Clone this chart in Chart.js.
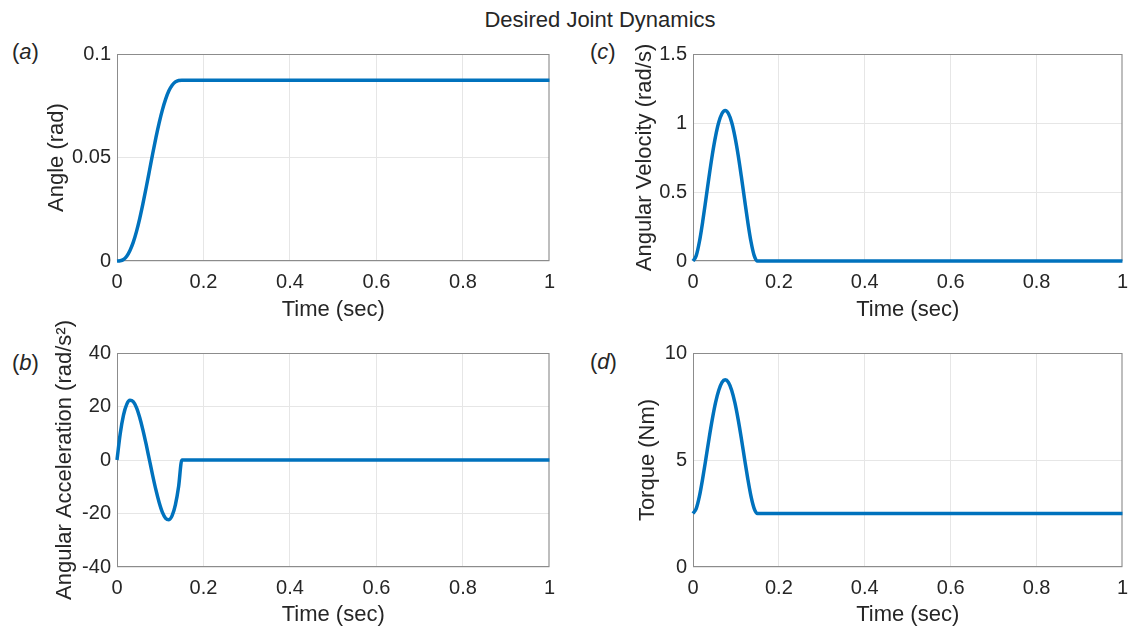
<!DOCTYPE html>
<html>
<head>
<meta charset="utf-8">
<script src="https://cdn.jsdelivr.net/npm/chart.js@4/dist/chart.umd.min.js"></script>
<style>
  body { margin: 0; background: #fff; }
  #wrap { position: relative; width: 1137px; height: 629px; font-family: "Liberation Sans", Arial, sans-serif; color: #262626; }
  #wrap canvas { position: absolute; }
  .txt { position: absolute; font-size: 22px; line-height: 1; white-space: nowrap; }
  .tag { transform: translateY(-50%); }
</style>
</head>
<body>
<div id="wrap">
  <div class="txt" id="mainTitle" style="left:600px; top:20px; transform:translate(-50%,-50%);">Desired Joint Dynamics</div>
  <div class="txt tag" style="left:12px; top:52px;">(<i>a</i>)</div>
  <div class="txt tag" style="left:590px; top:52px;">(<i>c</i>)</div>
  <div class="txt tag" style="left:12px; top:363px;">(<i>b</i>)</div>
  <div class="txt tag" style="left:590px; top:362px;">(<i>d</i>)</div>
  <canvas id="chartA" width="564" height="290" style="left:0px; top:36px;"></canvas>
  <canvas id="chartC" width="561" height="290" style="left:576px; top:36px;"></canvas>
  <canvas id="chartB" width="564" height="329" style="left:0px; top:300px;"></canvas>
  <canvas id="chartD" width="561" height="329" style="left:576px; top:300px;"></canvas>
</div>
<script>
// Data (time in sec)
const time = [0, 0.0075, 0.015, 0.0225, 0.03, 0.0375, 0.045, 0.0525, 0.06, 0.0675, 0.075,
              0.0825, 0.09, 0.0975, 0.105, 0.1125, 0.12, 0.1275, 0.135, 0.1425, 0.15, 1];
const angle = [0, 0.0001, 0.0007, 0.0023, 0.0051, 0.0090, 0.0142, 0.0205, 0.0277, 0.0355, 0.0436,
               0.0518, 0.0596, 0.0667, 0.0730, 0.0782, 0.0822, 0.0849, 0.0865, 0.0872, 0.0873, 0.0873];
const velocity = [0, 0.039, 0.141, 0.284, 0.447, 0.614, 0.770, 0.903, 1.005, 1.069, 1.091,
                  1.069, 1.005, 0.903, 0.770, 0.614, 0.447, 0.284, 0.141, 0.039, 0, 0];
const accel = [0, 9.9, 16.8, 20.8, 22.3, 21.8, 19.6, 15.9, 11.2, 5.8, 0,
               -5.8, -11.2, -15.9, -19.6, -21.8, -22.3, -20.8, -16.8, -9.9, 0, 0];
const torque = [2.50, 2.73, 3.31, 4.13, 5.06, 6.02, 6.91, 7.68, 8.26, 8.63, 8.75,
                8.63, 8.26, 7.68, 6.91, 6.02, 5.06, 4.13, 3.31, 2.73, 2.50, 2.50];

// Tick labels
const timeTicks = [0, 0.2, 0.4, 0.6, 0.8, 1];
const angleTicks = [0, 0.05, 0.1];
const velocityTicks = [0, 0.5, 1, 1.5];
const accelTicks = [-40, -20, 0, 20, 40];
const torqueTicks = [0, 5, 10];

const FONT = '"Liberation Sans", Arial, sans-serif';
const TEXT = '#262626';
const LINE = '#0072BD';

/**
 * MATLAB style box around the axes, drawn under the curve
 */
const boxPlugin = {
    id: 'box',
    beforeDatasetsDraw(chart) {
        const { ctx, chartArea: a } = chart;
        ctx.save();
        ctx.strokeStyle = '#8c8c8c';
        ctx.lineWidth = 1;
        ctx.strokeRect(a.left + 0.5, a.top + 0.5, a.right - a.left - 1, a.bottom - a.top - 1);
        ctx.restore();
    }
};

// plotH: height of the axes box, padTop: space above it inside the canvas
function makePanel(id, values, yTicks, yTitle, yTitlePad, xTitlePad, padTop, padRight, plotH) {
    const ctx = document.getElementById(id).getContext('2d');
    return new Chart(ctx, {
        type: 'line',
        data: {
            datasets: [{
                data: time.map((t, i) => ({ x: t, y: values[i] })),
                borderColor: LINE,
                borderWidth: 3.5,
                pointRadius: 0,
                cubicInterpolationMode: 'monotone',
                clip: false
            }]
        },
        options: {
            responsive: false,
            animation: false,
            devicePixelRatio: 1,
            layout: { padding: { top: padTop, right: padRight, left: 0, bottom: 0 } },
            plugins: { legend: { display: false }, tooltip: { enabled: false } },
            scales: {
                x: {
                    type: 'linear',
                    min: timeTicks[0],
                    max: timeTicks[timeTicks.length - 1],
                    afterBuildTicks: s => { s.ticks = timeTicks.map(v => ({ value: v })); },
                    afterFit: s => { s.height = s.chart.height - padTop - plotH; },
                    grid: { color: '#e6e6e6', drawTicks: false },
                    border: { display: false },
                    ticks: {
                        padding: 9,
                        maxRotation: 0,
                        color: TEXT,
                        font: { family: FONT, size: 20 },
                        callback: v => String(v)
                    },
                    title: {
                        display: true,
                        text: 'Time (sec)',
                        color: TEXT,
                        font: { family: FONT, size: 22, lineHeight: 1 },
                        padding: { top: 0, bottom: xTitlePad }
                    }
                },
                y: {
                    min: yTicks[0],
                    max: yTicks[yTicks.length - 1],
                    afterBuildTicks: s => { s.ticks = yTicks.map(v => ({ value: v })); },
                    afterFit: s => { s.width = 117; },
                    grid: { color: '#e6e6e6', drawTicks: false },
                    border: { display: false },
                    ticks: {
                        padding: 6,
                        color: TEXT,
                        font: { family: FONT, size: 20 },
                        callback: v => String(v)
                    },
                    title: {
                        display: true,
                        text: yTitle,
                        color: TEXT,
                        font: { family: FONT, size: 22, lineHeight: 1 },
                        padding: { top: yTitlePad, bottom: 0 }
                    }
                }
            }
        },
        plugins: [boxPlugin]
    });
}

makePanel('chartA', angle, angleTicks, 'Angle (rad)', 46, 5, 12, 10, 213);
makePanel('chartC', velocity, velocityTicks, 'Angular Velocity (rad/s)', 58, 5, 12, 7, 213);
makePanel('chartB', accel, accelTicks, 'Angular Acceleration (rad/s\u00B2)', 54, 3, 53, 10, 214);
makePanel('chartD', torque, torqueTicks, 'Torque (Nm)', 61, 3, 53, 7, 214);
</script>
</body>
</html>
